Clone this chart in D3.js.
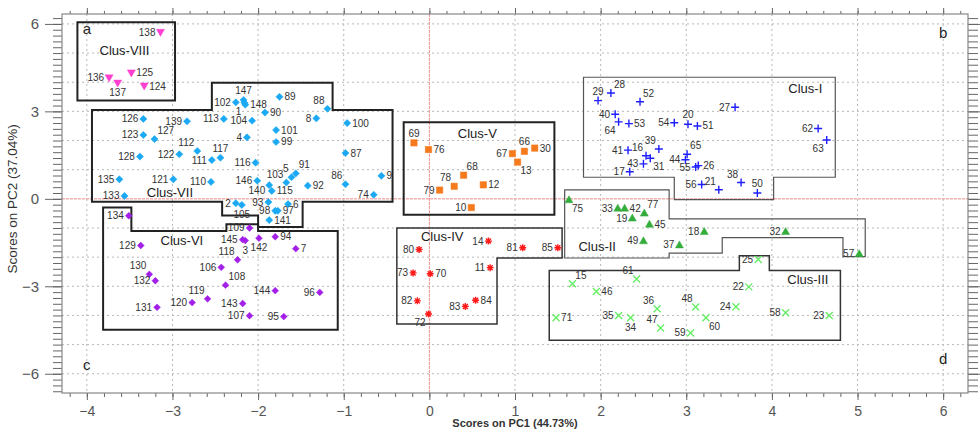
<!DOCTYPE html>
<html><head><meta charset="utf-8">
<script src="https://cdn.jsdelivr.net/npm/d3@7"></script>
<style>
body{margin:0;background:#fff;}
svg{display:block;font-family:"Liberation Sans",Arial,sans-serif;}
</style></head>
<body><svg id="chart" width="980" height="432"></svg>
<script>
// ---------- DATA: [id, PC1, PC2] ----------
const clusI = [[29,1.97,3.37],[28,2.12,3.63],[52,2.46,3.33],[27,3.57,3.14],[40,2.17,2.90],[64,2.21,2.64],[53,2.33,2.58],[54,2.86,2.61],[20,3.02,2.56],[51,3.13,2.50],[62,4.54,2.41],[63,4.64,2.02],[41,2.32,1.67],[16,2.53,1.48],[39,2.68,1.71],[31,2.58,1.39],[43,2.50,1.20],[17,2.34,0.93],[65,3.01,1.53],[44,2.99,1.34],[26,3.14,1.14],[55,3.11,1.09],[56,3.18,0.49],[21,3.38,0.31],[38,3.64,0.56],[50,3.83,0.20]];
const clusII = [[75,1.63,-0.03],[33,2.20,-0.32],[42,2.28,-0.32],[77,2.51,-0.49],[19,2.37,-0.66],[45,2.57,-0.87],[18,3.21,-1.12],[32,4.16,-1.12],[49,2.50,-1.44],[37,2.92,-1.58],[57,5.02,-1.88]];
const clusIII = [[25,3.84,-2.08],[15,1.67,-2.91],[61,2.42,-2.75],[46,1.95,-3.18],[22,3.73,-3.02],[36,2.66,-3.77],[48,3.11,-3.71],[24,3.58,-3.70],[35,2.21,-4.00],[34,2.35,-4.08],[71,1.48,-4.08],[58,4.16,-3.91],[23,4.67,-4.00],[60,3.23,-4.08],[47,2.70,-4.43],[59,3.05,-4.60]];
const clusIV = [[80,-0.12,-1.74],[14,0.69,-1.45],[81,1.09,-1.68],[85,1.50,-1.68],[11,0.71,-2.36],[73,-0.19,-2.54],[70,0.01,-2.57],[82,-0.14,-3.50],[83,0.42,-3.69],[84,0.54,-3.48],[72,-0.01,-3.95]];
const clusV = [[69,-0.18,1.92],[76,-0.01,1.69],[66,1.11,1.63],[30,1.23,1.74],[67,0.97,1.55],[13,1.03,1.26],[68,0.40,0.81],[78,0.29,0.43],[79,0.12,0.30],[12,0.63,0.48],[10,0.49,-0.30]];
const clusVI = [[134,-3.51,-0.58],[109,-2.10,-1.00],[145,-2.18,-1.40],[3,-2.15,-1.43],[142,-1.99,-1.35],[94,-1.80,-1.30],[7,-1.56,-1.71],[129,-3.37,-1.60],[118,-2.24,-2.09],[106,-2.43,-2.35],[130,-3.27,-2.59],[132,-3.20,-2.81],[108,-2.38,-2.96],[144,-1.80,-3.15],[96,-1.28,-3.21],[119,-2.59,-3.43],[120,-2.77,-3.56],[143,-2.18,-3.59],[131,-3.18,-3.72],[107,-2.10,-4.01],[95,-1.70,-4.04]];
const clusVII = [[147,-2.17,3.39],[1,-2.16,3.30],[148,-2.15,3.23],[102,-2.26,3.31],[89,-1.75,3.50],[88,-1.19,3.09],[8,-1.32,2.76],[100,-0.96,2.60],[90,-1.92,2.96],[104,-2.07,2.68],[113,-2.40,2.74],[139,-2.83,2.66],[126,-3.34,2.74],[123,-3.34,2.19],[127,-3.21,2.05],[4,-2.13,2.11],[101,-1.79,2.36],[99,-1.79,1.95],[112,-2.71,1.64],[117,-2.44,1.41],[111,-2.54,1.33],[122,-2.92,1.53],[128,-3.38,1.45],[116,-2.03,1.24],[87,-0.98,1.57],[135,-3.62,0.67],[121,-2.99,0.67],[110,-2.55,0.58],[146,-2.01,0.62],[140,-1.87,0.47],[115,-1.84,0.27],[103,-1.67,0.56],[5,-1.61,0.74],[91,-1.56,0.87],[92,-1.42,0.45],[86,-0.98,0.50],[74,-0.65,0.14],[133,-3.56,0.10],[9,-0.56,0.79],[2,-2.26,-0.15],[105,-2.19,-0.21],[93,-1.88,-0.11],[6,-1.65,-0.18],[98,-1.80,-0.41],[97,-1.77,-0.41],[141,-1.87,-0.73]];
const clusVIII = [[138,-3.14,5.71],[136,-3.74,4.15],[137,-3.64,3.97],[125,-3.48,4.32],[124,-3.33,3.87]];

const clusterNames = ["Clus-I","Clus-II","Clus-III","Clus-IV","Clus-V","Clus-VI","Clus-VII","Clus-VIII"];
const clusterPoints = [clusI,clusII,clusIII,clusIV,clusV,clusVI,clusVII,clusVIII];
// cluster label anchor [PC1, PC2]
const clusterLabelPos = [[4.39,3.64],[1.96,-1.80],[4.42,-2.91],[0.15,-1.43],[0.56,2.09],[-2.89,-1.57],[-3.03,0.08],[-3.56,4.93]];
// cluster outlines (PC1, PC2 vertices)
const outlineI = [[1.80,4.17],[4.74,4.17],[4.74,0.74],[4.02,0.74],[4.02,-0.03],[2.86,-0.03],[2.86,0.74],[1.80,0.74]];
const outlineII = [[1.58,0.31],[2.80,0.31],[2.80,-0.69],[5.09,-0.69],[5.09,-1.98],[4.83,-1.98],[4.83,-1.33],[3.42,-1.33],[3.42,-1.86],[2.80,-1.86],[2.80,-2.03],[1.58,-2.03]];
const outlineIII = [[1.40,-2.46],[3.62,-2.46],[3.62,-1.95],[3.97,-1.95],[3.97,-2.46],[4.80,-2.46],[4.80,-4.85],[1.40,-4.85]];
const outlineIV = [[-0.38,-1.00],[1.55,-1.00],[1.55,-2.03],[0.79,-2.03],[0.79,-4.29],[-0.38,-4.29]];
const outlineV = [[-0.30,2.63],[1.46,2.63],[1.46,-0.55],[-0.30,-0.55]];
const outlineVI = [[-3.81,-0.30],[-3.48,-0.30],[-3.48,-1.10],[-2.37,-1.10],[-2.37,-0.87],[-2.00,-0.87],[-2.00,-1.10],[-1.07,-1.10],[-1.07,-4.49],[-3.81,-4.49]];
const outlineVII = [[-3.94,3.05],[-2.54,3.05],[-2.54,3.98],[-1.13,3.98],[-1.13,3.05],[-0.43,3.05],[-0.43,-0.10],[-1.48,-0.10],[-1.48,-0.97],[-2.00,-0.97],[-2.00,-0.57],[-2.42,-0.57],[-2.42,-0.10],[-3.94,-0.10]];
const outlineVIII = [[-4.11,6.06],[-2.97,6.06],[-2.97,3.37],[-4.11,3.37]];
const outlines = [outlineI,outlineII,outlineIII,outlineIV,outlineV,outlineVI,outlineVII,outlineVIII];

const xTicks = [-4,-3,-2,-1,0,1,2,3,4,5,6];
const yTicks = [-6,-3,0,3,6];
const cornerLetters = [["a",-4,5.65],["b",6,5.5],["c",-4,-5.86],["d",6,-5.68]];
const xTitle = "Scores on PC1 (44.73%)";
const yTitle = "Scores on PC2 (37.04%)";

// label placement per point id
const labelSide = {
 138:"l",136:"l",137:"b",125:"r",124:"r",
 147:"t",1:"bl",148:"r",102:"l",89:"r",88:"tl",8:"l",100:"r",90:"r",104:"l",113:"l",139:"l",126:"l",123:"l",127:"tr",4:"l",101:"r",99:"r",112:"tl",117:"t",111:"l",122:"l",128:"l",116:"l",87:"r",135:"l",121:"l",110:"l",146:"l",103:"tl",140:"ml",115:"r",5:"tl",91:"tr",92:"r",86:"tl",74:"l",133:"l",9:"r",2:"l",105:"b",93:"l",6:"r",98:"l",97:"r",141:"r",
 134:"l",109:"l",145:"l",3:"b",142:"b",94:"r",7:"r",129:"l",118:"tl",106:"l",130:"tl",132:"l",108:"tr",144:"l",96:"l",119:"tl",120:"l",143:"l",131:"l",107:"l",95:"l",
 69:"t",76:"r",66:"t",30:"r",67:"l",13:"br",68:"tr",78:"tl",79:"l",12:"r",10:"l",
 80:"l",14:"l",81:"l",85:"l",11:"l",73:"l",70:"r",82:"l",83:"l",84:"r",72:"bl",
 29:"t",28:"tr",52:"tr",27:"l",40:"l",64:"bl",53:"r",54:"l",20:"t",51:"r",62:"l",63:"bl",41:"l",16:"tl",39:"tl",31:"br",43:"l",17:"l",65:"tr",44:"l",26:"r",55:"l",56:"l",21:"tl",38:"tl",50:"t",
 75:"br",33:"l",42:"r",77:"tr",19:"l",45:"r",18:"l",32:"l",49:"l",37:"l",57:"l",
 25:"l",15:"tr",61:"tl",46:"r",22:"l",36:"tl",48:"tl",24:"l",35:"l",34:"b",71:"r",58:"l",23:"l",60:"br",47:"tl",59:"l"
};

// ---------- STYLE ----------
const W = 980, H = 432;
const M = {left:62, right:12, top:14, bottom:39};
const svg = d3.select("#chart");
const x = d3.scaleLinear().domain([-4.29,6.29]).range([M.left, W-M.right]);
const y = d3.scaleLinear().domain([-6.66,6.34]).range([H-M.bottom, M.top]);

const markerColors = ["#1f1fff","#35ad3c","#66ee66","#ff1a1a","#f57a1e","#a21fe8","#1aa9f2","#ff3fd0"];
const boxStroke = [1.2,1.2,1.5,1.5,2,2,2,2];
const boxColor = ["#555","#555","#333","#333","#222","#222","#222","#222"];

function markerPath(ci){
  switch(ci){
    case 0: return "M-4,0H4M0,-4V4";
    case 1: return "M0,-4L4,3H-4Z";
    case 2: return "M-3.5,-3.5L3.5,3.5M-3.5,3.5L3.5,-3.5";
    case 3: return "M-3.5,0H3.5M0,-3.5V3.5M-2.5,-2.5L2.5,2.5M-2.5,2.5L2.5,-2.5";
    case 4: return "M-3.2,-3.2H3.2V3.2H-3.2Z";
    case 5: return "M0,-3.4L3.4,0L0,3.4L-3.4,0Z";
    case 6: return "M0,-3.6L3.6,0L0,3.6L-3.6,0Z";
    case 7: return "M-4,-3H4L0,4Z";
  }
}
const strokeMarker = [true,false,true,true,false,false,false,false];

// grid
const gGrid = svg.append("g");
gGrid.selectAll("line.vx").data(xTicks).join("line")
  .attr("x1",d=>x(d)).attr("x2",d=>x(d)).attr("y1",M.top).attr("y2",H-M.bottom)
  .attr("stroke",d=>d===0?"#f08a8a":"#b8b8b8").attr("stroke-dasharray",d=>d===0?"3,1":"2,3").attr("stroke-width",1);
gGrid.selectAll("line.hy").data(d3.range(-6,7,1)).join("line")
  .attr("y1",d=>y(d)).attr("y2",d=>y(d)).attr("x1",M.left).attr("x2",W-M.right)
  .attr("stroke",d=>d===0?"#f08a8a":"#b8b8b8").attr("stroke-dasharray",d=>d===0?"3,1":"2,3").attr("stroke-width",1);

// axes
const xMinor = d3.range(-4.2,6.21,0.2).map(v=>+v.toFixed(1));
const yMinor = d3.range(-6.6,6.31,0.2).map(v=>+v.toFixed(1));
function styleAxis(g){ g.select(".domain").remove(); g.selectAll(".tick line").attr("stroke","#666"); }
svg.append("g").attr("transform",`translate(0,${H-M.bottom})`)
  .call(d3.axisBottom(x).tickValues(xMinor).tickSize(4).tickFormat("")).call(styleAxis);
svg.append("g").attr("transform",`translate(0,${H-M.bottom})`)
  .call(d3.axisBottom(x).tickValues(xTicks).tickSize(7).tickPadding(6).tickFormat(d3.format("d"))).call(styleAxis)
  .selectAll("text").attr("font-size",14).attr("fill","#555");
svg.append("g").attr("transform",`translate(0,${M.top})`)
  .call(d3.axisTop(x).tickValues(xMinor).tickSize(3).tickFormat("")).call(styleAxis);
svg.append("g").attr("transform",`translate(0,${M.top})`)
  .call(d3.axisTop(x).tickValues(xTicks).tickSize(6).tickFormat("")).call(styleAxis);
svg.append("g").attr("transform",`translate(${M.left},0)`)
  .call(d3.axisLeft(y).tickValues(yMinor).tickSize(9).tickFormat("")).call(styleAxis);
svg.append("g").attr("transform",`translate(${M.left},0)`)
  .call(d3.axisLeft(y).tickValues(yTicks).tickSize(17).tickPadding(6).tickFormat(d3.format("d"))).call(styleAxis)
  .selectAll("text").attr("font-size",15).attr("fill","#555");
svg.append("g").attr("transform",`translate(${W-M.right},0)`)
  .call(d3.axisRight(y).tickValues(yMinor).tickSize(10).tickFormat("")).call(styleAxis);
svg.append("g").attr("transform",`translate(${W-M.right},0)`)
  .call(d3.axisRight(y).tickValues(yTicks).tickSize(12).tickFormat("")).call(styleAxis);

// frame
svg.append("rect").attr("x",M.left).attr("y",M.top).attr("width",W-M.left-M.right).attr("height",H-M.top-M.bottom)
  .attr("fill","none").attr("stroke","#888").attr("stroke-width",1.2);

// cluster outlines
const line = d3.line().x(d=>x(d[0])).y(d=>y(d[1])).curve(d3.curveLinearClosed);
svg.append("g").selectAll("path").data(outlines).join("path")
  .attr("d",line).attr("fill","none")
  .attr("stroke",(d,i)=>boxColor[i]).attr("stroke-width",(d,i)=>boxStroke[i]);

// cluster labels
svg.append("g").selectAll("text").data(clusterNames).join("text")
  .attr("x",(d,i)=>x(clusterLabelPos[i][0])).attr("y",(d,i)=>y(clusterLabelPos[i][1]))
  .attr("text-anchor","middle").attr("font-size",13).attr("fill","#222").text(d=>d);

// points
const offs = {l:[-5,3.5,"end"],r:[5,3.5,"start"],t:[0,-6,"middle"],b:[0,13,"middle"],
  tl:[-3,-5,"end"],tr:[3,-5,"start"],bl:[-3,12,"end"],br:[3,12,"start"],ml:[-4,9,"end"]};
clusterPoints.forEach((pts,ci)=>{
  const g = svg.append("g");
  g.selectAll("path").data(pts).join("path")
    .attr("transform",d=>`translate(${x(d[1])},${y(d[2])})`)
    .attr("d",markerPath(ci))
    .attr("fill",strokeMarker[ci]?"none":markerColors[ci])
    .attr("stroke",markerColors[ci]).attr("stroke-width",strokeMarker[ci]?1.4:0.5);
  g.selectAll("text").data(pts).join("text")
    .attr("x",d=>x(d[1])+offs[labelSide[d[0]]||"r"][0])
    .attr("y",d=>y(d[2])+offs[labelSide[d[0]]||"r"][1])
    .attr("text-anchor",d=>offs[labelSide[d[0]]||"r"][2])
    .attr("font-size",10).attr("fill","#333").text(d=>d[0]);
});

// corner letters
svg.append("g").selectAll("text").data(cornerLetters).join("text")
  .attr("x",d=>x(d[1])).attr("y",d=>y(d[2])).attr("text-anchor","middle")
  .attr("font-size",15).attr("fill","#222").text(d=>d[0]);

// axis titles
svg.append("text").attr("x",x(1)).attr("y",H-5).attr("text-anchor","middle")
  .attr("font-size",11).attr("font-weight","bold").attr("fill","#333").text(xTitle);
svg.append("text").attr("transform",`translate(17,${y(0)}) rotate(-90)`).attr("text-anchor","middle")
  .attr("font-size",13.5).attr("fill","#333").text(yTitle);
</script></body></html>
